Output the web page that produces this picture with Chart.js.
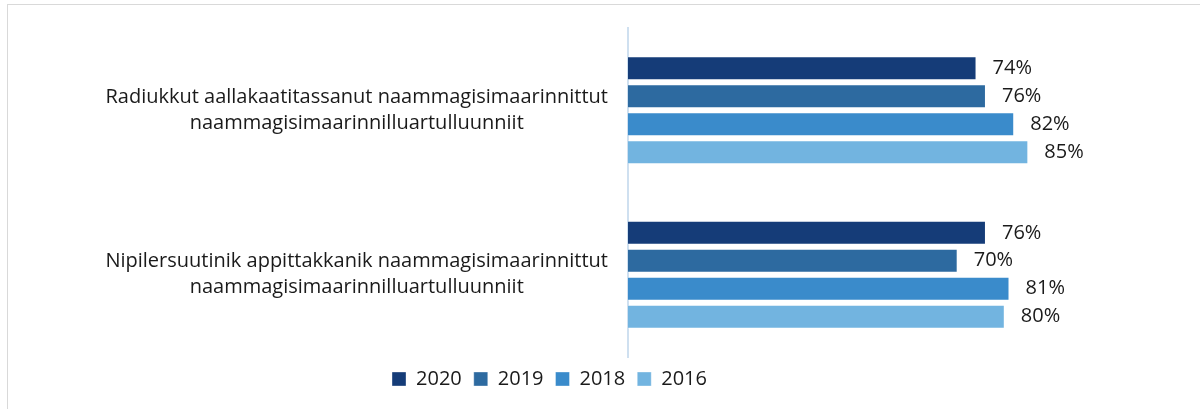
<!DOCTYPE html>
<html>
<head>
<meta charset="utf-8">
<script src="https://cdn.jsdelivr.net/npm/chart.js@4/dist/chart.umd.min.js"></script>
<style>
	html, body { margin: 0; padding: 0; background: #fff; overflow: hidden; }
	#wrap { position: relative; width: 1200px; height: 409px; }
	#frame { position: absolute; left: 7px; top: 4px; width: 1300px; height: 500px; border: 1px solid #d9d9d9; }
	#chart-box { position: absolute; left: 0; top: 0; width: 1200px; height: 409px; }
</style>
</head>
<body>
<div id="wrap">
	<div id="frame"></div>
	<div id="chart-box"><canvas id="bar-graph"></canvas></div>
</div>
<script>
const categories = [
	['Radiukkut aallakaatitassanut naammagisimaarinnittut', 'naammagisimaarinnilluartulluunniit'],
	['Nipilersuutinik appittakkanik naammagisimaarinnittut', 'naammagisimaarinnilluartulluunniit']
];
const years = ['2020', '2019', '2018', '2016'];
const values2020 = [74, 76];
const values2019 = [76, 70];
const values2018 = [82, 81];
const values2016 = [85, 80];
const colors = ['#153c78', '#2d6aa0', '#3a8bcb', '#72b4e0'];

const seriesValues = [values2020, values2019, values2018, values2016];
const fontName = 'Open Sans';

let datasets = [];
for (let i = 0; i < years.length; i++) {
	datasets.push({
		label: years[i],
		data: seriesValues[i],
		backgroundColor: colors[i],
		borderColor: 'rgba(255,255,255,0.35)',
		borderWidth: 1,
		categoryPercentage: 0.68,
		barPercentage: 0.86
	});
}

// percent labels right of each bar
const valueLabels = {
	id: 'valueLabels',
	afterDatasetsDraw(chart) {
		const ctx = chart.ctx;
		ctx.save();
		ctx.font = '20px "' + fontName + '"';
		ctx.fillStyle = '#1a1a1a';
		ctx.textAlign = 'left';
		ctx.textBaseline = 'middle';
		chart.data.datasets.forEach((ds, di) => {
			const meta = chart.getDatasetMeta(di);
			meta.data.forEach((bar, i) => {
				ctx.fillText(ds.data[i] + '%', bar.x + 16, bar.y);
			});
		});
		ctx.restore();
	}
};

var ctx = document.getElementById('bar-graph').getContext('2d');

var barGraph = new Chart(ctx, {
	type: 'bar',
	data: {
		labels: categories,
		datasets: datasets
	},
	options: {
		indexAxis: 'y',
		responsive: true,
		maintainAspectRatio: false,
		animation: false,
		layout: {
			padding: { top: 28, right: 101, bottom: 10, left: 0 }
		},
		scales: {
			x: {
				display: false,
				min: 0,
				max: 100
			},
			y: {
				afterFit(scale) {
					scale.width = 628;
					scale.paddingTop = 0;
					scale.paddingBottom = 0;
				},
				grid: { display: false, drawTicks: false },
				border: { display: true, color: '#cfe0f0', width: 2 },
				ticks: {
					crossAlign: 'center',
					padding: 20,
					color: '#1a1a1a',
					font: { family: fontName, size: 20, lineHeight: 1.3 }
				}
			}
		},
		plugins: {
			tooltip: { enabled: false },
			legend: {
				position: 'bottom',
				labels: {
					boxWidth: 14,
					boxHeight: 14,
					padding: 12,
					color: '#1a1a1a',
					font: { family: fontName, size: 20 }
				}
			}
		}
	},
	plugins: [valueLabels]
});
</script>
</body>
</html>
